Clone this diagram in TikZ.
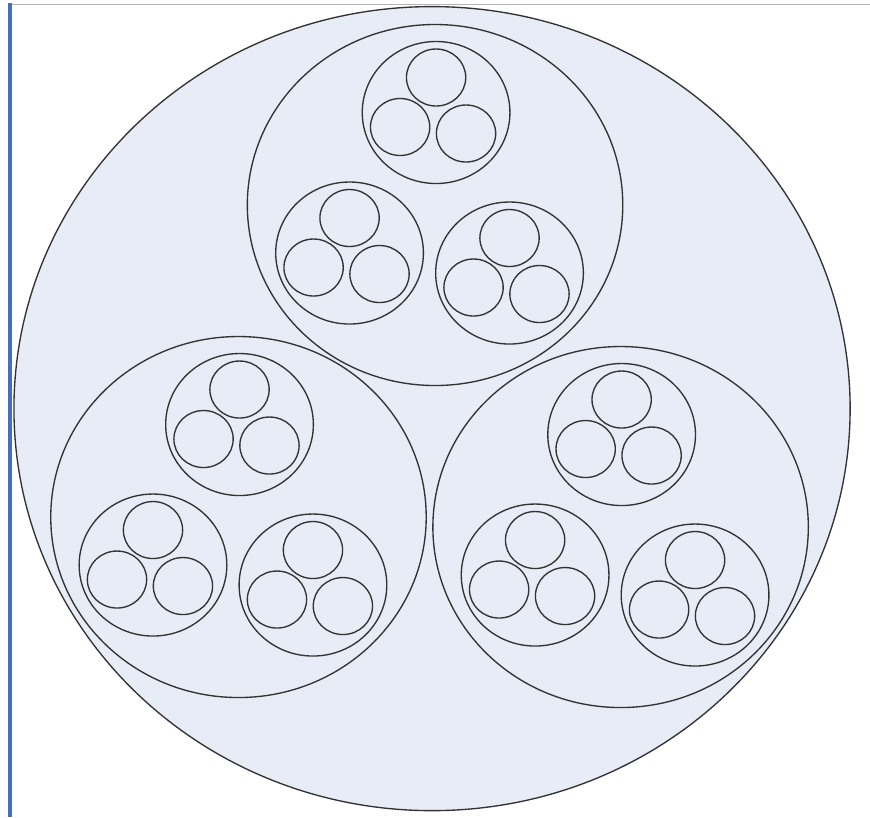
\documentclass[tikz,border=0pt]{standalone}
\usetikzlibrary{calc}
\definecolor{cablefill}{RGB}{232,236,246}
\definecolor{winbar}{RGB}{68,112,184}
\tikzset{
 sheath/.style={draw=black!80,line width=1.35pt,fill=cablefill},
 bundle/.style={draw=black!80,line width=1.35pt},
 strand/.style={draw=black!80,line width=1.35pt}
}

\begin{document}
\begin{tikzpicture}[x=1.04pt,y=-1pt]
\path[use as bounding box] (0,0) rectangle (836.5,817);
\fill[winbar] (7.7,3) rectangle (11.5,817);
\draw[gray!60,line width=1.5pt] (11.5,4.5) -- (836.5,4.5);
\coordinate (core) at (415.4,408.6);
\draw[sheath] (core) circle (402);
\foreach \gname/\dx/\dy in {T/2.9/-203.6, L/-186.1/108.4, R/181.3/118.4}{
  \coordinate (\gname) at ($(core)+(\dx,\dy)$);
  \draw[bundle] (\gname) circle (180.5);
  \foreach \bname/\ex/\ey in {t/1/-92.5, l/-82.2/48, r/71.6/68}{
    \coordinate (\gname\bname) at ($(\gname)+(\ex,\ey)$);
    \draw[bundle] (\gname\bname) circle (71);
    \foreach \fx/\fy in {0/-35, -34.6/14.5, 28.8/21}
      \draw[strand] ($(\gname\bname)+(\fx,\fy)$) circle (28.5);
  }
}
\end{tikzpicture}
\end{document}
